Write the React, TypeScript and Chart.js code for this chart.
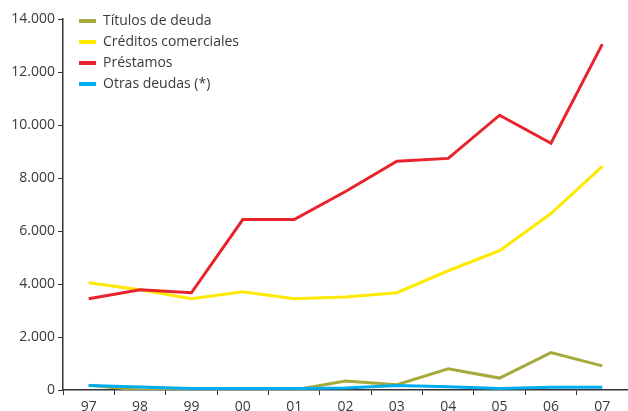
import React, { useEffect, useRef } from "react";
import { Chart, registerables } from "chart.js";

Chart.register(...registerables);

const years = ["97", "98", "99", "00", "01", "02", "03", "04", "05", "06", "07"];
const titulos = [180, 0, 0, 0, 0, 340, 200, 800, 450, 1410, 910];
const creditos = [4050, 3780, 3440, 3710, 3440, 3510, 3670, 4500, 5260, 6660, 8440];
const prestamos = [3440, 3780, 3670, 6430, 6430, 7490, 8630, 8740, 10370, 9310, 13050];
const otras = [170, 110, 60, 60, 60, 80, 170, 120, 60, 100, 100];

const seriesNames = ["Títulos de deuda", "Créditos comerciales", "Préstamos", "Otras deudas (*)"];
const seriesColors = ["#A6AA3C", "#FFE900", "#E8232B", "#00AEEF"];
const yTicks = [0, 2000, 4000, 6000, 8000, 10000, 12000, 14000];

const FONT = "'Open Sans', 'Noto Sans', sans-serif";
const TEXT = "#3a3a3a";

function fmt(v: number): string {
  return String(v).replace(/\B(?=(\d{3})+(?!\d))/g, ".");
}

const legendMove = {
  id: "legendMove",
  afterLayout(chart: any) {
    const lg = chart.legend;
    if (!lg) return;
    const w = lg.width;
    const h = lg.height;
    lg.left = 72;
    lg.top = 7;
    lg.right = lg.left + w;
    lg.bottom = lg.top + h;
  },
};

export default function App() {
  const ref = useRef<HTMLCanvasElement | null>(null);
  useEffect(() => {
    if (!ref.current) return;
    const values = [titulos, creditos, prestamos, otras];
    const orders = [1, 3, 2, 0];
    const chart = new Chart(ref.current, {
      type: "line",
      data: {
        labels: years,
        datasets: values.map((d, i) => ({
          label: seriesNames[i],
          data: d,
          borderColor: seriesColors[i],
          backgroundColor: seriesColors[i],
          borderWidth: 3,
          pointRadius: 0,
          tension: 0,
          order: orders[i],
        })),
      },
      options: {
        animation: false,
        responsive: true,
        maintainAspectRatio: false,
        layout: { padding: { top: 19, right: 0, left: 0, bottom: 0 } },
        plugins: {
          tooltip: { enabled: false },
          legend: {
            position: "chartArea" as any,
            align: "start",
            labels: {
              boxWidth: 17,
              boxHeight: 4,
              padding: 7,
              color: TEXT,
              font: { family: FONT, size: 14 },
              generateLabels: (c: any) =>
                c.data.datasets.map((ds: any, i: number) => ({
                  text: ds.label,
                  fillStyle: ds.borderColor,
                  strokeStyle: ds.borderColor,
                  lineWidth: 0,
                  hidden: false,
                  datasetIndex: i,
                  fontColor: TEXT,
                })),
            },
          },
        },
        scales: {
          x: {
            offset: true,
            grid: { display: true, drawOnChartArea: false, drawTicks: true, tickLength: 5, color: "#333", offset: true },
            border: { display: true, color: "#333", width: 1.5 },
            ticks: { color: TEXT, font: { family: FONT, size: 14 }, padding: 4, maxRotation: 0 },
            afterFit: (s: any) => {
              s.height = 21;
            },
          },
          y: {
            min: 0,
            max: 14000,
            afterBuildTicks: (s: any) => {
              s.ticks = yTicks.map((v) => ({ value: v }));
            },
            grid: { display: true, drawOnChartArea: false, drawTicks: true, tickLength: 5, color: "#333" },
            border: { display: true, color: "#333", width: 1.5 },
            ticks: {
              color: TEXT,
              font: { family: FONT, size: 14 },
              padding: 3,
              callback: (v: any) => fmt(Number(v)),
            },
            afterFit: (s: any) => {
              s.width = 63;
            },
          },
        },
      },
      plugins: [legendMove],
    });
    return () => chart.destroy();
  }, []);
  return (
    <div style={{ position: "absolute", left: 0, top: 0, width: 628, height: 411, background: "#fff" }}>
      <canvas ref={ref} />
    </div>
  );
}
